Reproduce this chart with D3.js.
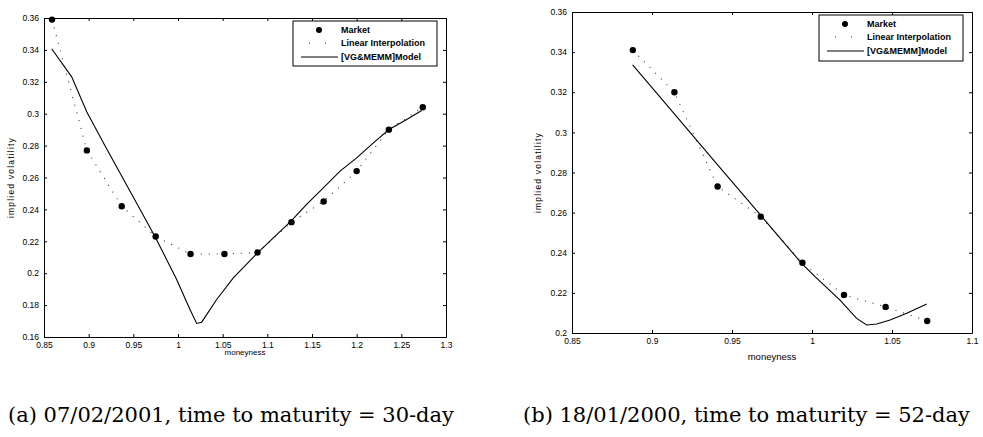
<!DOCTYPE html>
<html>
<head>
<meta charset="utf-8">
<script src="https://cdn.jsdelivr.net/npm/d3@7"></script>
<style>
  body { margin: 0; background: #fff; }
  svg { display: block; }
</style>
</head>
<body>
<svg id="fig" width="983" height="437"></svg>
<script>
// ---- panel (a): 07/02/2001, 30-day ----
const aMarketX = [0.859, 0.898, 0.937, 0.975, 1.014, 1.052, 1.089, 1.127, 1.163, 1.200, 1.236, 1.274];
const aMarketY = [0.359, 0.277, 0.242, 0.223, 0.212, 0.212, 0.213, 0.232, 0.245, 0.264, 0.290, 0.304];
const aModelX = [0.8586, 0.881, 0.8978, 0.9175, 0.9377, 0.9556, 0.9746, 0.9985, 1.0134, 1.0209, 1.0265, 1.0433,
                 1.0619, 1.0892, 1.1067, 1.1265, 1.144, 1.1627, 1.1814, 1.2, 1.2187, 1.2362, 1.256, 1.2728];
const aModelY = [0.3407, 0.3231, 0.3012, 0.2807, 0.2602, 0.242, 0.2226, 0.1961, 0.1772, 0.1685, 0.1693, 0.1835,
                 0.1971, 0.2128, 0.2222, 0.2326, 0.2431, 0.2535, 0.264, 0.2723, 0.2817, 0.2901, 0.2964, 0.302];
const aXTicks = [0.85, 0.9, 0.95, 1, 1.05, 1.1, 1.15, 1.2, 1.25, 1.3];
const aYTicks = [0.16, 0.18, 0.2, 0.22, 0.24, 0.26, 0.28, 0.3, 0.32, 0.34, 0.36];

// ---- panel (b): 18/01/2000, 52-day ----
const bMarketX = [0.888, 0.914, 0.941, 0.968, 0.994, 1.020, 1.046, 1.072];
const bMarketY = [0.341, 0.320, 0.273, 0.258, 0.235, 0.219, 0.213, 0.206];
const bModelX = [0.8879, 0.9133, 0.9406, 0.9675, 0.9935, 1.0019, 1.0175, 1.0279, 1.0342, 1.0404, 1.0488, 1.0592, 1.0717];
const bModelY = [0.3336, 0.3098, 0.2842, 0.2591, 0.2347, 0.2281, 0.2164, 0.2073, 0.204, 0.2045, 0.2065, 0.2098, 0.2144];
const bXTicks = [0.85, 0.9, 0.95, 1, 1.05, 1.1];
const bYTicks = [0.2, 0.22, 0.24, 0.26, 0.28, 0.3, 0.32, 0.34, 0.36];

const legendLabels = ["Market", "Linear Interpolation", "[VG&MEMM]Model"];
const xTitle = "moneyness";
const yTitle = "implied volatility";
const captions = ["(a) 07/02/2001, time to maturity = 30-day", "(b) 18/01/2000, time to maturity = 52-day"];

const svg = d3.select("#fig");
const tickFont = "'Liberation Sans Narrow', 'Liberation Sans', Arial, sans-serif";
const labelFont = "'Liberation Sans', Arial, sans-serif";
const fmt = d => String(+d.toFixed(2));

function drawPanel(p) {
  const x = d3.scaleLinear().domain(p.xDomain).range([p.left, p.right]);
  const y = d3.scaleLinear().domain(p.yDomain).range([p.bottom, p.top]);
  const g = svg.append("g");

  // axes, MATLAB style: ticks pointing inwards on all four sides
  const gx = g.append("g").attr("transform", "translate(0," + p.bottom + ")")
    .call(d3.axisBottom(x).tickValues(p.xTicks).tickSize(-3).tickSizeOuter(0).tickPadding(5).tickFormat(fmt));
  const gy = g.append("g").attr("transform", "translate(" + p.left + ",0)")
    .call(d3.axisLeft(y).tickValues(p.yTicks).tickSize(-3).tickSizeOuter(0).tickPadding(5).tickFormat(fmt));
  g.append("g").attr("transform", "translate(0," + p.top + ")")
    .call(d3.axisTop(x).tickValues(p.xTicks).tickSize(-3).tickSizeOuter(0).tickFormat(""));
  g.append("g").attr("transform", "translate(" + p.right + ",0)")
    .call(d3.axisRight(y).tickValues(p.yTicks).tickSize(-3).tickSizeOuter(0).tickFormat(""));

  g.selectAll(".domain, .tick line").attr("stroke", "#000").attr("stroke-width", 1);
  [gx, gy].forEach(a => a.selectAll("text")
    .attr("font-family", tickFont).attr("font-size", 8.5).attr("fill", "#000"));

  // axis titles
  g.append("text")
    .attr("x", (p.left + p.right) / 2).attr("y", p.bottom + p.xTitleGap)
    .attr("text-anchor", "middle").attr("font-family", labelFont).attr("font-size", p.xTitleSize)
    .text(xTitle);
  g.append("text")
    .attr("transform", "translate(" + p.yTitleX + "," + (p.top + p.bottom) / 2 + ") rotate(-90)")
    .attr("text-anchor", "middle").attr("font-family", labelFont).attr("font-size", 8.5)
    .attr("letter-spacing", 1.2)
    .text(yTitle);

  const market = d3.zip(p.marketX, p.marketY);
  const model = d3.zip(p.modelX, p.modelY);
  const line = d3.line().x(d => x(d[0])).y(d => y(d[1]));

  // linear interpolation (sparse dots)
  g.append("path").datum(market)
    .attr("d", line).attr("fill", "none")
    .attr("stroke", "#333").attr("stroke-width", 1.1).attr("stroke-dasharray", "1,7");

  // model
  g.append("path").datum(model)
    .attr("d", line).attr("fill", "none")
    .attr("stroke", "#000").attr("stroke-width", 1.1);

  // market quotes
  g.selectAll("circle.mk").data(market).join("circle")
    .attr("class", "mk")
    .attr("cx", d => x(d[0])).attr("cy", d => y(d[1])).attr("r", 3.2)
    .attr("fill", "#000");

  // legend
  const L = p.legend;
  const lg = g.append("g").attr("transform", "translate(" + L.x + "," + L.y + ")");
  lg.append("rect").attr("width", L.w).attr("height", L.h)
    .attr("fill", "#fff").attr("stroke", "#000").attr("stroke-width", 1);
  const rowY = [9, 22, 36];
  lg.append("circle").attr("cx", L.sample + 18).attr("cy", rowY[0]).attr("r", 3).attr("fill", "#000");
  lg.append("line").attr("x1", L.sample).attr("x2", L.sample + 37).attr("y1", rowY[1]).attr("y2", rowY[1])
    .attr("stroke", "#333").attr("stroke-width", 1.1).attr("stroke-dasharray", "1,15").attr("stroke-dashoffset", -8);
  lg.append("line").attr("x1", L.sample).attr("x2", L.sample + 37).attr("y1", rowY[2]).attr("y2", rowY[2])
    .attr("stroke", "#000").attr("stroke-width", 1.1);
  lg.selectAll("text").data(legendLabels).join("text")
    .attr("x", L.text).attr("y", (d, i) => rowY[i]).attr("dy", "0.35em")
    .attr("font-family", labelFont).attr("font-size", 9).attr("font-weight", "bold")
    .text(d => d);
}

drawPanel({
  left: 44, right: 446, top: 18, bottom: 337,
  xDomain: [0.85, 1.3], yDomain: [0.16, 0.36],
  xTicks: aXTicks, yTicks: aYTicks,
  marketX: aMarketX, marketY: aMarketY, modelX: aModelX, modelY: aModelY,
  xTitleGap: 18, xTitleSize: 8, yTitleX: 14,
  legend: { x: 293, y: 21, w: 144, h: 45, sample: 8, text: 48 }
});

drawPanel({
  left: 572, right: 972, top: 12, bottom: 333,
  xDomain: [0.85, 1.1], yDomain: [0.2, 0.36],
  xTicks: bXTicks, yTicks: bYTicks,
  marketX: bMarketX, marketY: bMarketY, modelX: bModelX, modelY: bModelY,
  xTitleGap: 27, xTitleSize: 9.5, yTitleX: 541,
  legend: { x: 819, y: 15, w: 144, h: 46, sample: 8, text: 48 }
});

// captions under the two panels
svg.selectAll("text.cap").data(captions).join("text")
  .attr("class", "cap")
  .attr("x", (d, i) => i === 0 ? 8 : 523).attr("y", 422)
  .attr("font-family", "'DejaVu Serif', 'Liberation Serif', serif").attr("font-size", 21)
  .text(d => d);
</script>
</body>
</html>
